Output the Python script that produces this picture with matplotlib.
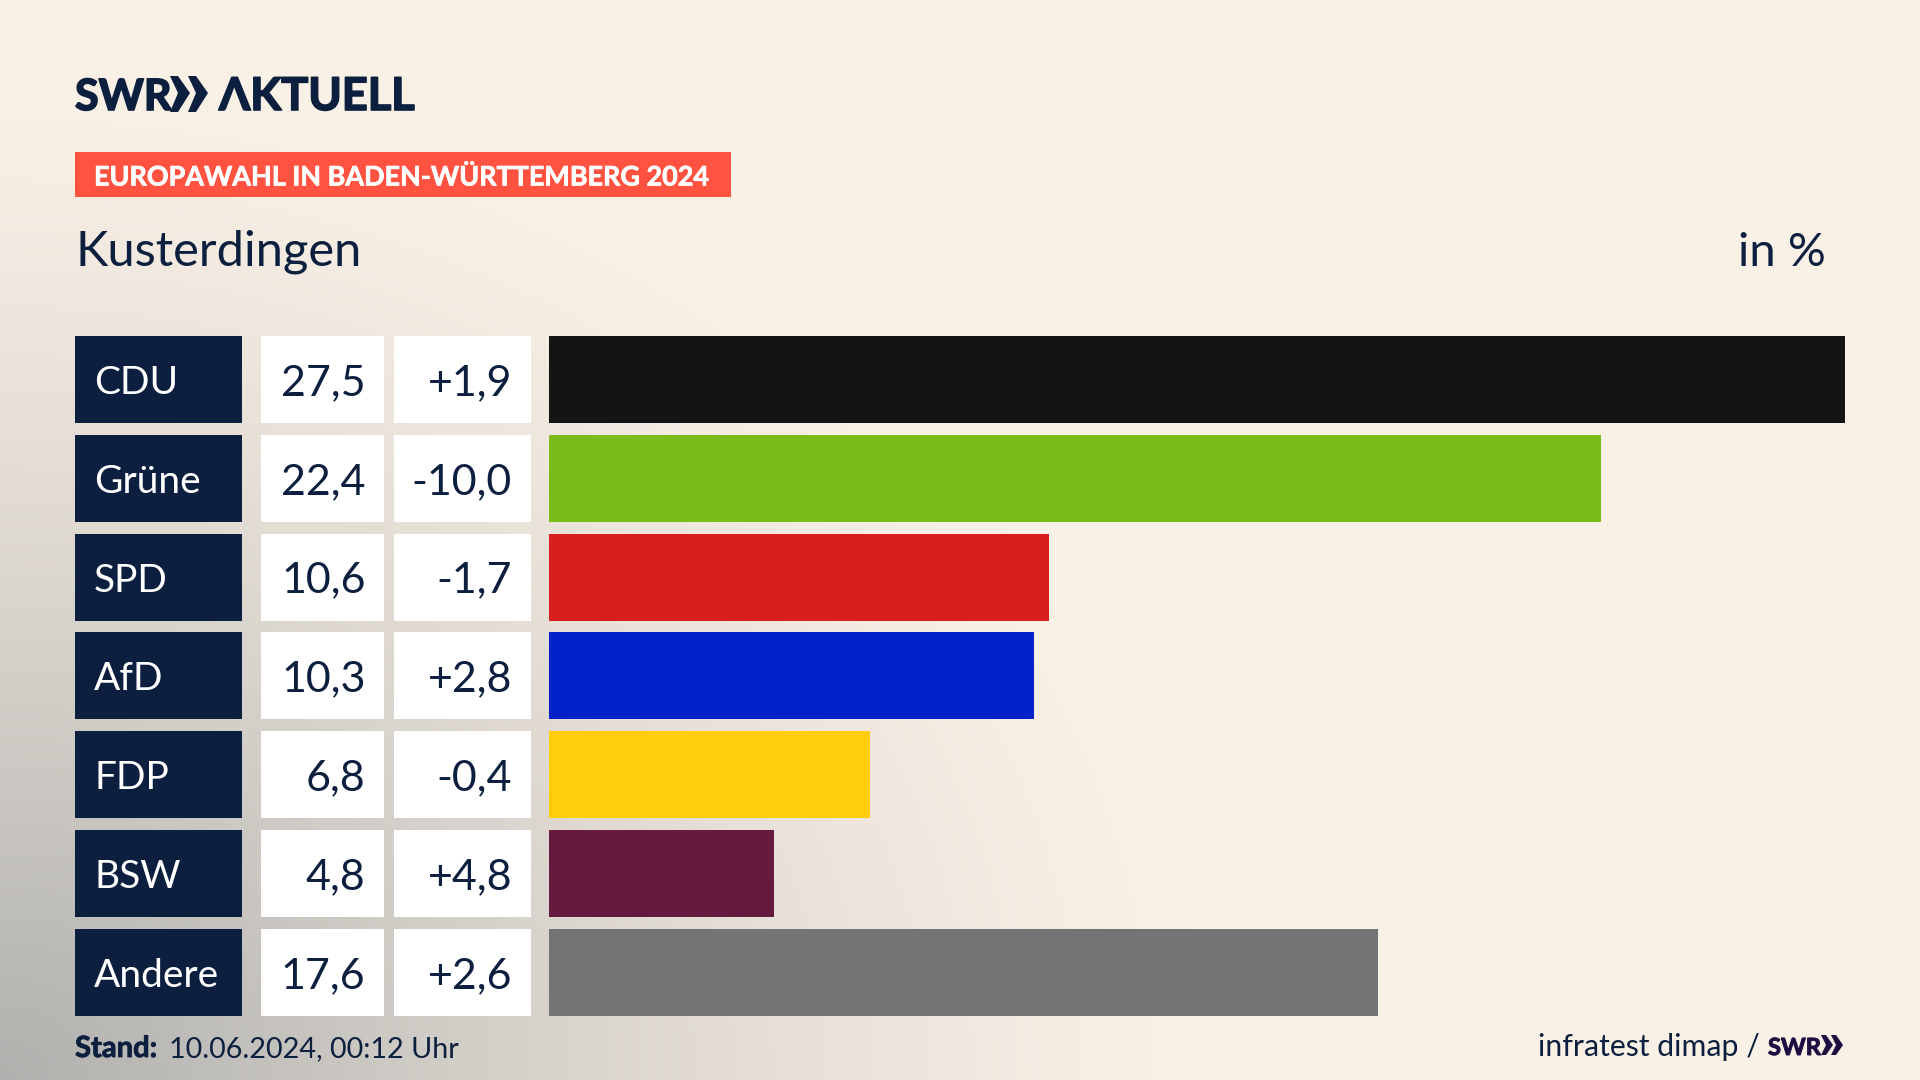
import numpy as np
import matplotlib
matplotlib.use("Agg")
import matplotlib.pyplot as plt
import matplotlib.patheffects as pe
from matplotlib.patches import Rectangle, Polygon

parties = ["CDU", "Grüne", "SPD", "AfD", "FDP", "BSW", "Andere"]
share_labels = ["27,5", "22,4", "10,6", "10,3", "6,8", "4,8", "17,6"]
bar_lengths = [27.5, 22.32, 10.6, 10.3, 6.82, 4.78, 17.6]
changes = ["+1,9", "-10,0", "-1,7", "+2,8", "-0,4", "+4,8", "+2,6"]
colors = ["#141414", "#7ABD1A", "#D7201D", "#0022C8", "#FFCE0A", "#661A3E", "#737475"]

NAVY = "#0C1F3F"
PURPLE = "#1E0F42"
FONT = ["Lato", "Noto Sans", "DejaVu Sans"]
plt.rcParams["font.family"] = FONT


def heavy(color, width):
    return [pe.withStroke(linewidth=width, foreground=color)]


fig = plt.figure(figsize=(19.2, 10.8), dpi=100)
ax = fig.add_axes([0, 0, 1, 1])
ax.axis("off")

# background
xx, yy = np.meshgrid(np.linspace(0, 1920, 480), np.linspace(0, 1080, 270))
d = np.sqrt((xx / 1200) ** 2 + ((1080 - yy) / 1000) ** 2)
t = np.clip(1 - d, 0, 1) ** 1.25
cream = np.array([250, 241, 230]) / 255
gray = np.array([176, 176, 174]) / 255
bg = cream[None, None, :] * (1 - t[..., None]) + gray[None, None, :] * t[..., None]
ax.imshow(bg, extent=[0, 1920, 1080, 0], aspect="auto", zorder=0)
ax.set_xlim(0, 1920)
ax.set_ylim(1080, 0)

# layout
ROW_TOP, PITCH, ROW_H = 336, 98.8, 87
for i, (p, lab, ch) in enumerate(zip(parties, share_labels, changes)):
    top = ROW_TOP + i * PITCH
    mid = top + ROW_H / 2
    ax.add_patch(Rectangle((75, top), 167, ROW_H, fc=NAVY, ec="none", zorder=2))
    ax.add_patch(Rectangle((261, top), 123, ROW_H, fc="white", ec="none", zorder=2))
    ax.add_patch(Rectangle((394, top), 137, ROW_H, fc="white", ec="none", zorder=2))
    ax.text(94, mid, p, color="white", fontsize=28, va="center_baseline", ha="left", zorder=3)
    ax.text(365.5, mid, lab, color=NAVY, fontsize=31, va="center_baseline", ha="right", zorder=3)
    ax.text(512, mid, ch, color=NAVY, fontsize=31, va="center_baseline", ha="right", zorder=3)

# bars
bar_ax = fig.add_axes([549 / 1920, 1 - (ROW_TOP + 6 * PITCH + ROW_H + (PITCH - ROW_H) / 2) / 1080,
                       (1845 - 549) / 1920, 7 * PITCH / 1080])
bar_ax.patch.set_alpha(0)
bar_ax.barh(parties, bar_lengths, height=ROW_H / PITCH, color=colors)
bar_ax.set_xlim(0, 27.5)
bar_ax.set_ylim(6.5, -0.5)
bar_ax.axis("off")

# logo
ax.text(75, 110, "SWR", color=NAVY, fontsize=31, fontweight="bold",
        ha="left", va="baseline", zorder=3, path_effects=heavy(NAVY, 1.2))
for dx in (0, 18):
    x0 = 170 + dx
    ax.add_patch(Polygon([(x0, 76), (x0 + 8, 76), (x0 + 20, 93), (x0 + 8, 112), (x0, 112), (x0 + 8, 93)],
                         fc=NAVY, ec="none", zorder=3))
ax.text(219, 110, "ΛKTUELL", color=NAVY, fontsize=32.5, fontweight="bold",
        ha="left", va="baseline", zorder=3, path_effects=heavy(NAVY, 1.2))

# header
ax.add_patch(Rectangle((75, 152), 656, 45, fc="#FF5240", ec="none", zorder=2))
ax.text(94, 175, "EUROPAWAHL IN BADEN-WÜRTTEMBERG 2024", color="white", fontsize=19.4,
        fontweight="bold", ha="left", va="center_baseline", zorder=3, path_effects=heavy("white", 0.5))
ax.text(76, 266, "Kusterdingen", color=NAVY, fontsize=35.1, ha="left", va="baseline", zorder=3)
ax.text(1826, 266, "in %", color=NAVY, fontsize=34, ha="right", va="baseline", zorder=3)

# footer
ax.text(75, 1057, "Stand:", color=NAVY, fontsize=21, fontweight="bold", ha="left", va="baseline",
        zorder=3, path_effects=heavy(NAVY, 0.6))
ax.text(169, 1057, "10.06.2024, 00:12 Uhr", color=NAVY, fontsize=20.7, ha="left", va="baseline", zorder=3)
ax.text(1760, 1056, "infratest dimap /", color=NAVY, fontsize=21.8, ha="right", va="baseline", zorder=3)
ax.text(1768, 1055, "SWR", color=PURPLE, fontsize=17, fontweight="bold",
        ha="left", va="baseline", zorder=3, path_effects=heavy(PURPLE, 0.7))
for dx in (0, 10):
    x0 = 1821 + dx
    ax.add_patch(Polygon([(x0, 1035), (x0 + 5, 1035), (x0 + 12, 1045), (x0 + 5, 1055), (x0, 1055), (x0 + 5, 1045)],
                         fc=PURPLE, ec="none", zorder=3))

fig.savefig("out.png", dpi=100)
